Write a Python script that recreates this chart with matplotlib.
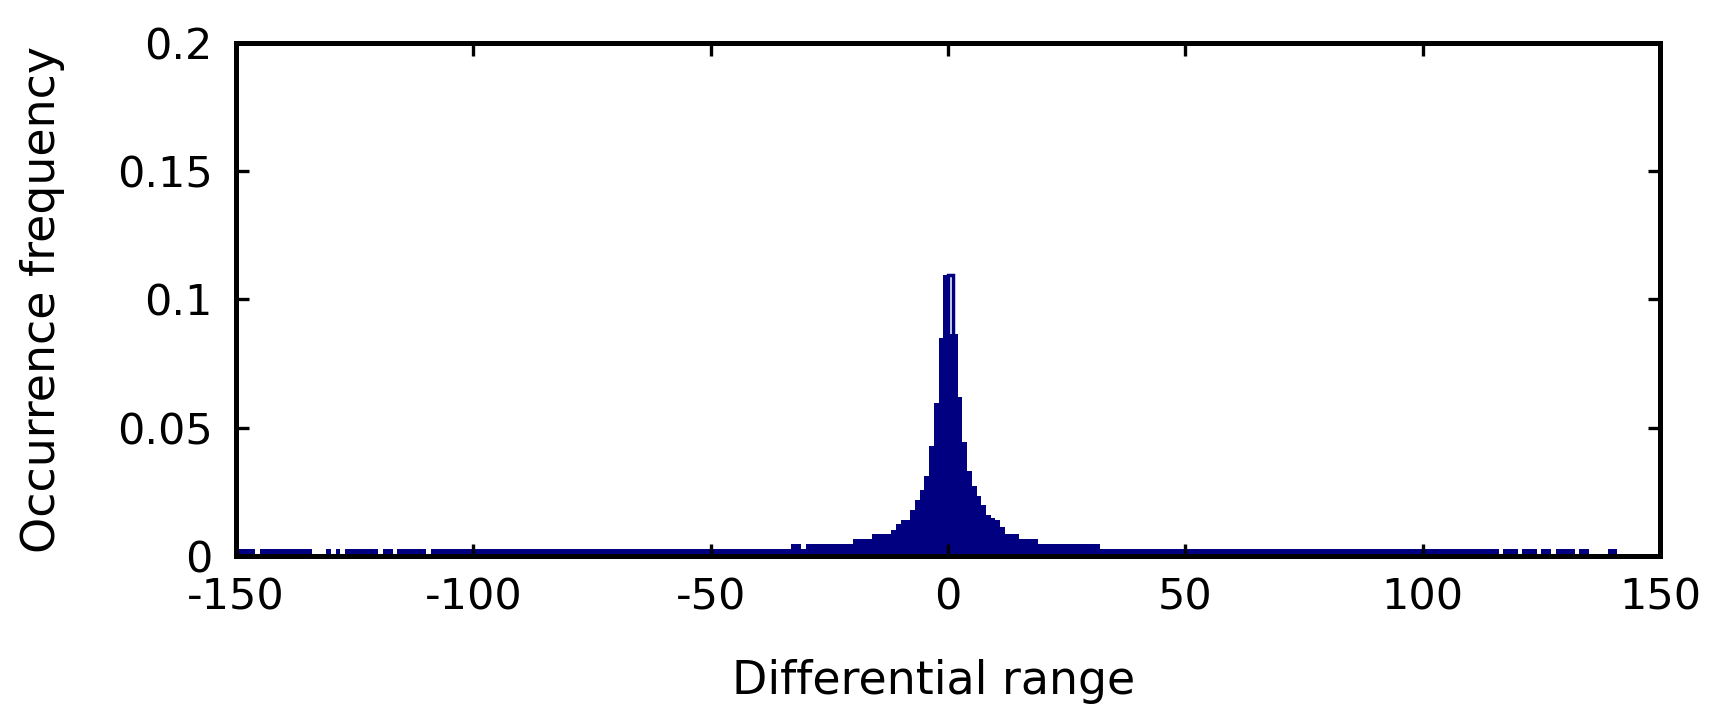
import numpy as np
import matplotlib
matplotlib.use("Agg")
import matplotlib.pyplot as plt

# histogram runs: [start, stop) in differential units, occurrence frequency
run_start = [-150, -146, -145, -134, -131, -130, -129, -128, -127, -120, -119, -117, -116, -110, -109,
             -33, -31, -30, -20, -16, -12, -11, -10, -8, -7, -6, -5, -4, -3, -2, -1,
             0, 2, 3, 4, 5, 6, 7, 8, 9, 10, 11, 12, 15, 19,
             32, 116, 117, 120, 121, 124, 125, 127, 128, 132, 133, 135, 139, 141]
run_stop = run_start[1:] + [150]
run_freq = [0.0028, 0.0, 0.0028, 0.0, 0.0028, 0.0, 0.0028, 0.0, 0.0028, 0.0, 0.0028, 0.0, 0.0028, 0.0, 0.0028,
            0.0048, 0.0028, 0.0048, 0.0066, 0.0084, 0.0103, 0.0123, 0.0141, 0.018, 0.022, 0.0256, 0.0312,
            0.0428, 0.0598, 0.0848, 0.1095,
            0.0865, 0.062, 0.0445, 0.0333, 0.0274, 0.0235, 0.0198, 0.0161, 0.015, 0.0141, 0.0112, 0.0084,
            0.0066, 0.0047,
            0.0028, 0.0, 0.0028, 0.0, 0.0028, 0.0, 0.0028, 0.0, 0.0028, 0.0, 0.0028, 0.0, 0.0028, 0.0]

# outline-only cap seen on top of the peak
cap_bin = [0]
cap_freq = [0.1095]

x_ticks = [-150, -100, -50, 0, 50, 100, 150]
y_ticks = [0, 0.05, 0.1, 0.15, 0.2]
y_tick_labels = ["0", "0.05", "0.1", "0.15", "0.2"]

navy = "#000080"

# expand runs into unit-width bins
bin_left = []
bin_freq = []
for a, b, f in zip(run_start, run_stop, run_freq):
    for k in range(a, b):
        bin_left.append(k)
        bin_freq.append(f)

plt.rcParams['font.family'] = ['DejaVu Sans']
plt.rcParams['axes.unicode_minus'] = False

fig = plt.figure(figsize=(17.24, 7.28), dpi=100)
ax = fig.add_axes([0.1369, 0.2363, 0.9629 - 0.1369, 0.9409 - 0.2363])

ax.bar(cap_bin, cap_freq, width=1, align='edge', fill=False, edgecolor=navy, linewidth=2.5)
ax.bar(bin_left, bin_freq, width=1, align='edge', color=navy, linewidth=0)

ax.set_xlim(-150, 150)
ax.set_ylim(0, 0.2)
ax.set_xticks(x_ticks)
ax.set_yticks(y_ticks)
ax.set_yticklabels(y_tick_labels)

for s in ax.spines.values():
    s.set_linewidth(3.6)
    s.set_color('black')

ax.tick_params(direction='in', length=9, width=2.4, top=True, right=True,
               labelsize=31, colors='black')
ax.tick_params(axis='x', pad=15)
ax.tick_params(axis='y', pad=17)

ax.set_xlabel("Differential range", fontsize=33)
ax.set_ylabel("Occurrence frequency", fontsize=33)
ax.xaxis.set_label_coords(0.49, -0.20)
ax.yaxis.set_label_coords(-0.12, 0.5)

fig.savefig("out.png", dpi=100)
